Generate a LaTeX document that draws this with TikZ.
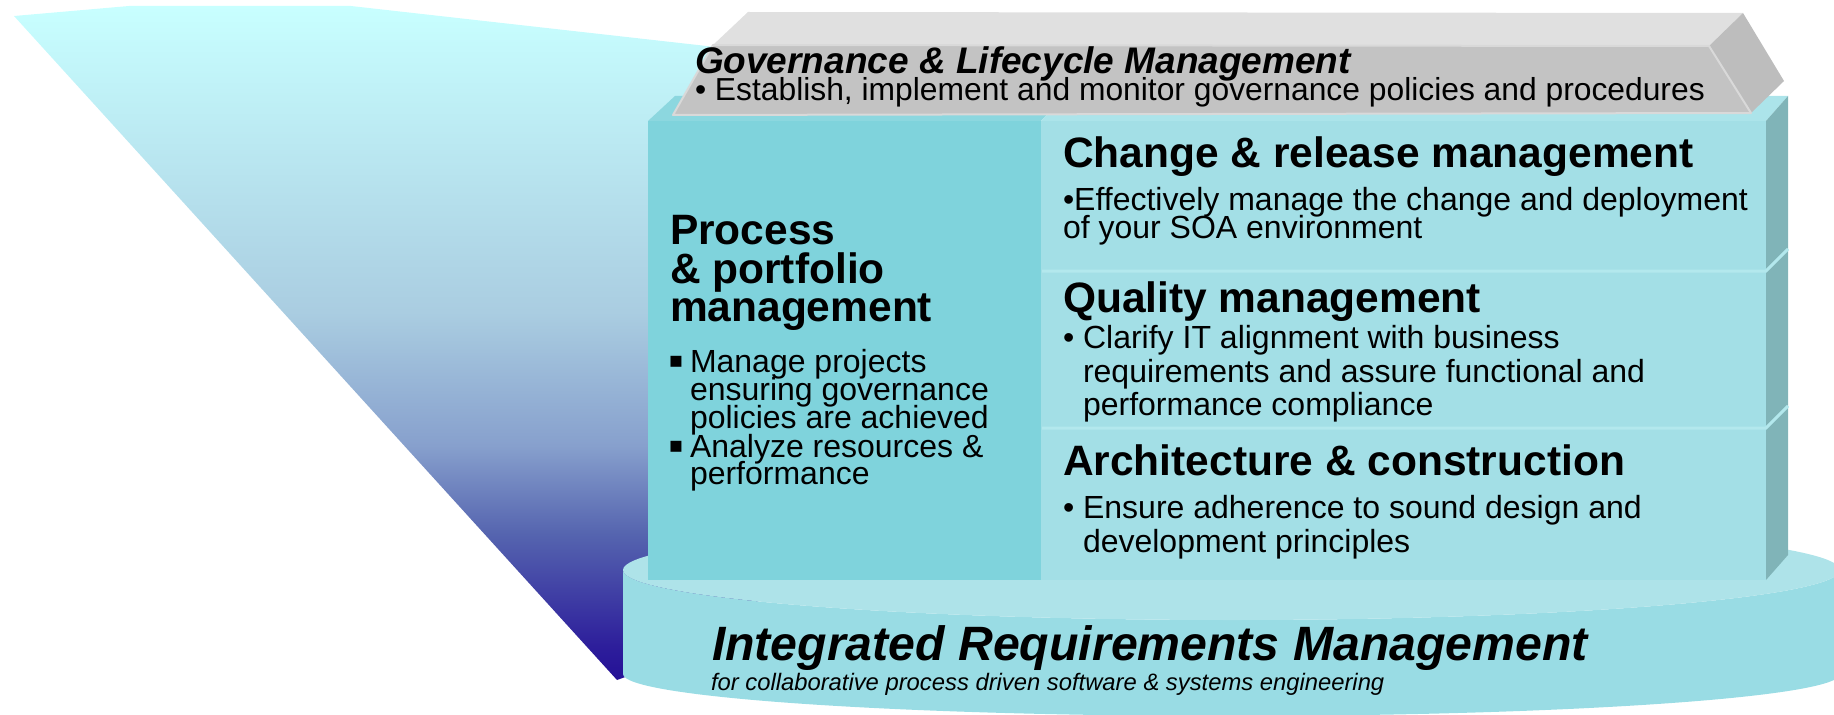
\documentclass[tikz,border=0pt]{standalone}
\usepackage{fontspec}
\setmainfont{Liberation Sans}
\newfontfamily\dejavu{DejaVu Sans}
\newcommand\fsz[1]{\fontsize{#1bp}{#1bp}\selectfont}
\definecolor{fa}{RGB}{200,255,255}
\definecolor{fb}{RGB}{170,205,225}
\definecolor{fc}{RGB}{135,160,205}
\definecolor{fd}{RGB}{85,100,175}
\definecolor{fe}{RGB}{45,30,155}
\definecolor{ff}{RGB}{36,16,150}
\pgfdeclareverticalshading{funnelshade}{100bp}{color(0bp)=(ff); color(25bp)=(ff); color(27.5bp)=(fe); color(35.8bp)=(fd); color(42.4bp)=(fc); color(52.3bp)=(fb); color(75bp)=(fa); color(100bp)=(fa)}
\definecolor{cylside}{RGB}{153,220,228}
\definecolor{cyltop}{RGB}{174,227,233}
\definecolor{leftfront}{RGB}{127,211,220}
\definecolor{rightfront}{RGB}{163,223,230}
\definecolor{tealtopL}{RGB}{140,215,223}
\definecolor{tealtopR}{RGB}{172,228,234}
\definecolor{tealside}{RGB}{128,180,184}
\definecolor{divcol}{RGB}{179,232,237}
\definecolor{graytop}{RGB}{224,224,224}
\definecolor{grayfront}{RGB}{195,195,195}
\definecolor{grayside}{RGB}{189,189,189}
\definecolor{grayedge}{RGB}{217,217,217}
\tikzset{
  txt/.style={anchor=base west, inner sep=0pt, outer sep=0pt, text=black},
  head/.style={txt, font=\bfseries\fsz{42.5}},
  body/.style={txt, font=\fsz{32}},
  divline/.style={draw=divcol, line width=3bp},
  sqbullet/.style={anchor=center, inner sep=0pt, font=\dejavu\fsz{22}}
}
\begin{document}
\begin{tikzpicture}[x=1bp,y=-1bp]
\useasboundingbox (0,0) rectangle (1834,715);
% funnel
\shade[shading=funnelshade] (14,16) -- (129,6) -- (351,6) -- (760,52) -- (760,600) -- (628,676) -- (617,680) -- cycle;
% cylinder base
\fill[cylside] (623,570) -- (623,674) arc[start angle=180,end angle=0,x radius=608.5,y radius=42] -- (1840,570) arc[start angle=0,end angle=180,x radius=608.5,y radius=50] -- cycle;
\fill[cyltop] (1231.5,570) ellipse[x radius=608.5,y radius=50];
% teal block
\fill[tealtopL] (648,121) -- (675,96) -- (1064,96) -- (1041,121) -- cycle;
\fill[tealtopR] (1041,121) -- (1064,96) -- (1788,96) -- (1766,121) -- cycle;
\fill[tealside] (1766,121) -- (1788,96) -- (1788,555) -- (1766,580) -- cycle;
\fill[leftfront] (648,121) rectangle (1041,580);
\fill[rightfront] (1041,121) rectangle (1766,580);
\draw[divline] (1042,271) -- (1766,271) -- (1788,249);
\draw[divline] (1042,428) -- (1766,428) -- (1788,406);
% gray governance bar
\fill[graytop] (713,45) -- (748,12) -- (1743,13) -- (1709,46) -- cycle;
\fill[grayfront] (713,45) -- (1709,46) -- (1751,113) -- (673,115) -- cycle;
\fill[grayside] (1709,46) -- (1743,13) -- (1784,81) -- (1751,113) -- cycle;
\draw[grayedge, line width=2bp, line join=round] (713,45) -- (1709,46) -- (1751,113) -- (673,115) -- cycle;
% texts: governance
\node[txt, font=\bfseries\itshape\fsz{37}] (govt) at (695,74) {Governance \& Lifecycle Management};
\node[txt, font=\fsz{31.8}] (govb) at (695,101) {• Establish, implement and monitor governance policies and procedures};
% change
\node[head] (crt) at (1063,168) {Change \& release management};
\node[body] (crb1) at (1063,210) {•Effectively manage the change and deployment};
\node[body] (crb2) at (1063,238) {of your SOA environment};
% quality
\node[head] (qt) at (1063,312) {Quality management};
\node[body] (qb1) at (1063,348) {• Clarify IT alignment with business};
\node[body] (qb2) at (1083,382) {requirements and assure functional and};
\node[body] (qb3) at (1083,415) {performance compliance};
% architecture
\node[head] (at) at (1063,475) {Architecture \& construction};
\node[body] (ab1) at (1063,518) {• Ensure adherence to sound design and};
\node[body] (ab2) at (1083,552) {development principles};
% process
\node[head] (pt1) at (670,244) {Process};
\node[head] (pt2) at (670,283) {\& portfolio};
\node[head] (pt3) at (670,321) {management};
\node[sqbullet] (pq1) at (676,361.5) {▪};
\node[body] (pb1) at (690,372) {Manage projects};
\node[body] (pb2) at (690,400) {ensuring governance};
\node[body] (pb3) at (690,428) {policies are achieved};
\node[sqbullet] (pq2) at (676,446.5) {▪};
\node[body] (pb4) at (690,457) {Analyze resources \&};
\node[body] (pb5) at (690,484) {performance};
% base
\node[txt, font=\bfseries\itshape\fsz{48.2}] (irm) at (712,660) {Integrated Requirements Management};
\node[txt, font=\itshape\fsz{23.8}] (irms) at (711,690) {for collaborative process driven software \& systems engineering};
\end{tikzpicture}
\end{document}
